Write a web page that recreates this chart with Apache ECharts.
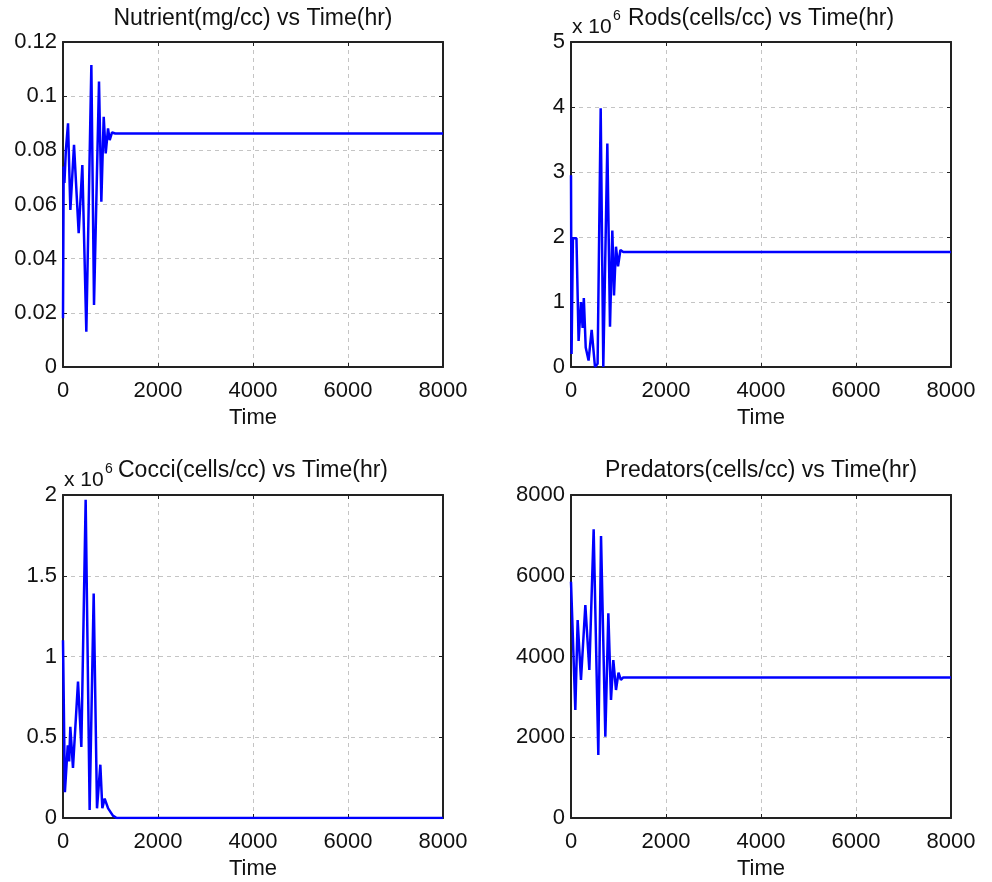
<!DOCTYPE html>
<html><head><meta charset="utf-8">
<script src="https://cdn.jsdelivr.net/npm/echarts@6/dist/echarts.min.js"></script>
<style>html,body{margin:0;padding:0;background:#fff}#c{width:992px;height:882px}</style>
</head><body><div id="c"></div>
<script>
// ---- data ----
const timeTicks = [0, 2000, 4000, 6000, 8000];

const nutrientT = [0, 14, 30, 60, 106, 155, 232, 330, 407, 491, 597, 653, 758, 807, 857, 899, 948, 983, 1032, 1100, 8000];
const nutrientV = [0.018, 0.074, 0.068, 0.080, 0.090, 0.058, 0.082, 0.0494, 0.0746, 0.013, 0.1115, 0.0229, 0.1054, 0.061, 0.0924, 0.0789, 0.0881, 0.0838, 0.0866, 0.0862, 0.0862];

const rodsT = [0, 12, 40, 115, 160, 210, 245, 270, 310, 370, 435, 505, 560, 625, 680, 765, 821, 870, 905, 947, 990, 1040, 1100, 8000];
const rodsV = [2.95, 0.2, 1.98, 1.98, 0.4, 1.0, 0.6, 1.06, 0.3, 0.1, 0.57, 0.0, 0.05, 3.98, 0.0, 3.44, 0.62, 2.1, 1.1, 1.85, 1.55, 1.8, 1.77, 1.77];

const cocciT = [0, 40, 100, 130, 154, 210, 316, 386, 477, 561, 646, 716, 786, 828, 877, 950, 1050, 1130, 8000];
const cocciV = [1.10, 0.16, 0.45, 0.35, 0.565, 0.31, 0.845, 0.44, 1.97, 0.05, 1.39, 0.06, 0.33, 0.06, 0.12, 0.06, 0.015, 0.0, 0.0];

const predT = [0, 91, 140, 210, 302, 386, 477, 575, 632, 723, 786, 842, 891, 947, 1000, 1050, 1100, 8000];
const predV = [5850, 2675, 4904, 3418, 5276, 3666, 7150, 1560, 6985, 2014, 5070, 2923, 3913, 3170, 3600, 3420, 3480, 3480];

const nutrientTicks = [0, 0.12, 0.02];
const rodsTicks = [0, 5, 1];
const cocciTicks = [0, 2, 0.5];
const predTicks = [0, 8000, 2000];

const titles = ['Nutrient(mg/cc) vs Time(hr)', 'Rods(cells/cc) vs Time(hr)', 'Cocci(cells/cc) vs Time(hr)', 'Predators(cells/cc) vs Time(hr)'];
const xName = 'Time';

// ---- layout ----
const FONT = "'Liberation Sans', Arial, sans-serif";
const FS = 22;
const TFS = 23;
const grids = [
  {left: 63, top: 42, width: 380, height: 325},
  {left: 571, top: 42, width: 380, height: 325},
  {left: 63, top: 495, width: 380, height: 323},
  {left: 571, top: 495, width: 380, height: 323}
];
const yTicks = [nutrientTicks, rodsTicks, cocciTicks, predTicks];
const seriesData = [
  nutrientT.map((t, i) => [t, nutrientV[i]]),
  rodsT.map((t, i) => [t, rodsV[i]]),
  cocciT.map((t, i) => [t, cocciV[i]]),
  predT.map((t, i) => [t, predV[i]])
];
const fmt = v => String(parseFloat(Number(v).toPrecision(6)));

const frameColor = '#222';
const gridLine = {show: true, lineStyle: {color: '#c4c4c4', type: [4, 4], width: 1}};
const xAxes = [], yAxes = [], series = [];
grids.forEach((g, i) => {
  xAxes.push({
    type: 'value', gridIndex: i, min: timeTicks[0], max: timeTicks[timeTicks.length - 1], interval: timeTicks[1] - timeTicks[0], position: 'bottom',
    name: xName, nameLocation: 'middle', nameGap: 40,
    nameTextStyle: {fontFamily: FONT, fontSize: FS, color: '#111'},
    axisLine: {show: true, onZero: false, lineStyle: {color: frameColor, width: 2}},
    axisTick: {show: true, inside: true, length: 4, lineStyle: {color: frameColor}},
    axisLabel: {fontFamily: FONT, fontSize: FS, color: '#111', margin: 13, formatter: fmt},
    splitLine: gridLine
  });
  xAxes.push({
    type: 'value', gridIndex: i, min: timeTicks[0], max: timeTicks[timeTicks.length - 1], interval: timeTicks[1] - timeTicks[0], position: 'top',
    axisLine: {show: true, onZero: false, lineStyle: {color: frameColor, width: 2}},
    axisTick: {show: true, inside: true, length: 4, lineStyle: {color: frameColor}},
    axisLabel: {show: false}, splitLine: {show: false}
  });
  const yt = yTicks[i];
  yAxes.push({
    type: 'value', gridIndex: i, min: yt[0], max: yt[1], interval: yt[2], position: 'left',
    axisLine: {show: true, onZero: false, lineStyle: {color: frameColor, width: 2}},
    axisTick: {show: true, inside: true, length: 4, lineStyle: {color: frameColor}},
    axisLabel: {fontFamily: FONT, fontSize: FS, color: '#111', margin: 6, formatter: fmt},
    splitLine: gridLine
  });
  yAxes.push({
    type: 'value', gridIndex: i, min: yt[0], max: yt[1], interval: yt[2], position: 'right',
    axisLine: {show: true, onZero: false, lineStyle: {color: frameColor, width: 2}},
    axisTick: {show: true, inside: true, length: 4, lineStyle: {color: frameColor}},
    axisLabel: {show: false}, splitLine: {show: false}
  });
  series.push({
    type: 'line', xAxisIndex: 2 * i, yAxisIndex: 2 * i, data: seriesData[i],
    showSymbol: false, symbol: 'none', animation: false,
    lineStyle: {color: '#0000ff', width: 2.5}
  });
});

const titleStyle = {fontFamily: FONT, fontSize: TFS, fill: '#111', textAlign: 'center', textVerticalAlign: 'middle'};
const graphic = [];
grids.forEach((g, i) => {
  graphic.push({type: 'text', x: g.left + g.width / 2, y: (i < 2 ? 19 : 471),
    style: Object.assign({text: titles[i]}, titleStyle)});
});
// exponent labels
[[1, 27], [2, 480]].forEach(([gi, y]) => {
  const g = grids[gi];
  graphic.push({type: 'text', x: g.left + 1, y: y, style: {text: 'x 10', fontFamily: FONT, fontSize: 21, fill: '#111', textAlign: 'left', textVerticalAlign: 'middle'}});
  graphic.push({type: 'text', x: g.left + 42, y: y - 11, style: {text: '6', fontFamily: FONT, fontSize: 14, fill: '#111', textAlign: 'left', textVerticalAlign: 'middle'}});
});

const chart = echarts.init(document.getElementById('c'), null, {renderer: 'canvas'});
chart.setOption({
  animation: false,
  backgroundColor: '#fff',
  grid: grids,
  xAxis: xAxes,
  yAxis: yAxes,
  series: series,
  graphic: graphic
});
</script></body></html>
